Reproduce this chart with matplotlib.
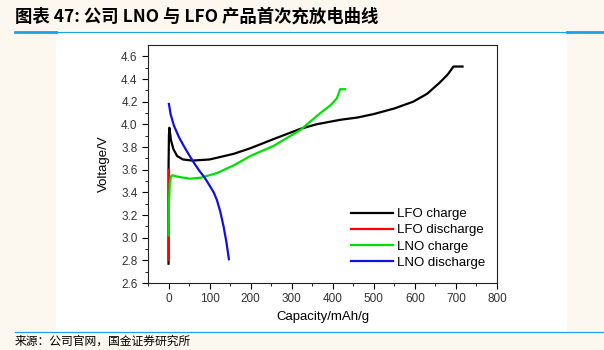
import matplotlib.pyplot as plt
from matplotlib.patches import Rectangle
from matplotlib.lines import Line2D

# ---- data ----
lfo_charge_x = [0, 0, 1, 2, 6, 12, 21, 35, 58, 100, 159, 200, 256, 321, 360, 418, 460, 499, 550, 596, 630, 661, 680, 694, 716]
lfo_charge_y = [2.77, 3.6, 3.9, 3.97, 3.86, 3.78, 3.72, 3.69, 3.68, 3.69, 3.74, 3.79, 3.87, 3.96, 4.0, 4.04, 4.06, 4.09, 4.14, 4.20, 4.27, 4.37, 4.44, 4.51, 4.51]

lfo_dis_x = [1, 1, 0.5, 0]
lfo_dis_y = [3.6, 3.3, 3.0, 2.8]

lno_charge_x = [0, 1, 3, 6, 9, 20, 35, 53, 80, 118, 160, 199, 256, 321, 370, 395, 410, 418, 430]
lno_charge_y = [3.02, 3.3, 3.48, 3.54, 3.55, 3.54, 3.53, 3.52, 3.53, 3.57, 3.64, 3.72, 3.81, 3.95, 4.10, 4.17, 4.23, 4.31, 4.31]

lno_dis_x = [1, 5, 13, 25, 37, 50, 62, 75, 88, 100, 110, 118, 126, 134, 141, 147]
lno_dis_y = [4.18, 4.09, 3.99, 3.89, 3.81, 3.73, 3.66, 3.59, 3.53, 3.46, 3.40, 3.33, 3.23, 3.10, 2.96, 2.81]

series_names = ["LFO charge", "LFO discharge", "LNO charge", "LNO discharge"]
series_colors = ["#000000", "#ff0000", "#00e000", "#1010e0"]

x_ticks = [0, 100, 200, 300, 400, 500, 600, 700, 800]
y_ticks = [2.6, 2.8, 3.0, 3.2, 3.4, 3.6, 3.8, 4.0, 4.2, 4.4, 4.6]

title = "图表 47: 公司 LNO 与 LFO 产品首次充放电曲线"
source = "来源：公司官网，国金证券研究所"

# ---- figure ----
W, H = 604, 350
fig = plt.figure(figsize=(W / 100, H / 100), dpi=100)
fig.patch.set_facecolor("#fcf8ef")

def fx(px):
    return px / W

def fy(py):
    return 1 - py / H

# white panel and blue rules
fig.patches.append(Rectangle((fx(56), fy(332)), fx(567) - fx(56), fy(32) - fy(332),
                             transform=fig.transFigure, facecolor="white", edgecolor="none", zorder=-5))
blue = "#1aa3e8"
fig.lines.append(Line2D([fx(15), fx(604)], [fy(31.5)] * 2, transform=fig.transFigure, color=blue, lw=0.8))
fig.lines.append(Line2D([fx(15), fx(56)], [fy(32)] * 2, transform=fig.transFigure, color=blue, lw=2))
fig.lines.append(Line2D([fx(567), fx(604)], [fy(32)] * 2, transform=fig.transFigure, color=blue, lw=2))
fig.lines.append(Line2D([fx(15), fx(604)], [fy(332)] * 2, transform=fig.transFigure, color=blue, lw=0.9))

fig.text(fx(15), fy(17), title, fontsize=12.5, fontweight="bold", style="italic",
         family=["Noto Sans CJK SC", "DejaVu Sans"], va="center", ha="left")
fig.text(fx(15), fy(341), source, fontsize=8.5,
         family=["Noto Sans CJK SC", "DejaVu Sans"], va="center", ha="left")

# axes box: left 148, right 497, top 45, bottom 283
ax = fig.add_axes([fx(148), fy(283), fx(497) - fx(148), fy(45) - fy(283)])
ax.set_zorder(2)
ax.set_facecolor("white")

data = [(lfo_charge_x, lfo_charge_y), (lfo_dis_x, lfo_dis_y),
        (lno_charge_x, lno_charge_y), (lno_dis_x, lno_dis_y)]
for (xs, ys), name, c in zip(data, series_names, series_colors):
    ax.plot(xs, ys, color=c, lw=1.6, label=name)

ax.set_xlim(-50, 800)
ax.set_ylim(2.6, 4.7)
ax.set_xticks(x_ticks)
ax.set_yticks(y_ticks)
ax.set_yticklabels([f"{v:.1f}" for v in y_ticks])
ax.set_xticks(range(-50, 801, 50), minor=True)
ax.set_yticks([2.6 + 0.1 * i for i in range(21)], minor=True)
ax.tick_params(which="major", direction="out", length=4, width=0.8, labelsize=8.5,
               labelcolor="#333333", top=False, right=False)
ax.tick_params(which="minor", direction="out", length=2, width=0.6, top=False, right=False)
for lbl in ax.get_xticklabels() + ax.get_yticklabels():
    lbl.set_family("Liberation Sans")
for s in ax.spines.values():
    s.set_linewidth(0.8)
    s.set_color("#222222")

ax.set_xlabel("Capacity/mAh/g", fontsize=9.5, family="Liberation Sans", labelpad=4)
ax.set_ylabel("Voltage/V", fontsize=9.5, family="Liberation Sans", labelpad=8)

leg = ax.legend(loc="lower right", bbox_to_anchor=(1.0, 0.01), frameon=False,
                prop={"family": "Liberation Sans", "size": 9.5},
                handlelength=3.2, handletextpad=0.3, labelspacing=0.3)

fig.savefig("out.png", dpi=100, facecolor=fig.get_facecolor())
